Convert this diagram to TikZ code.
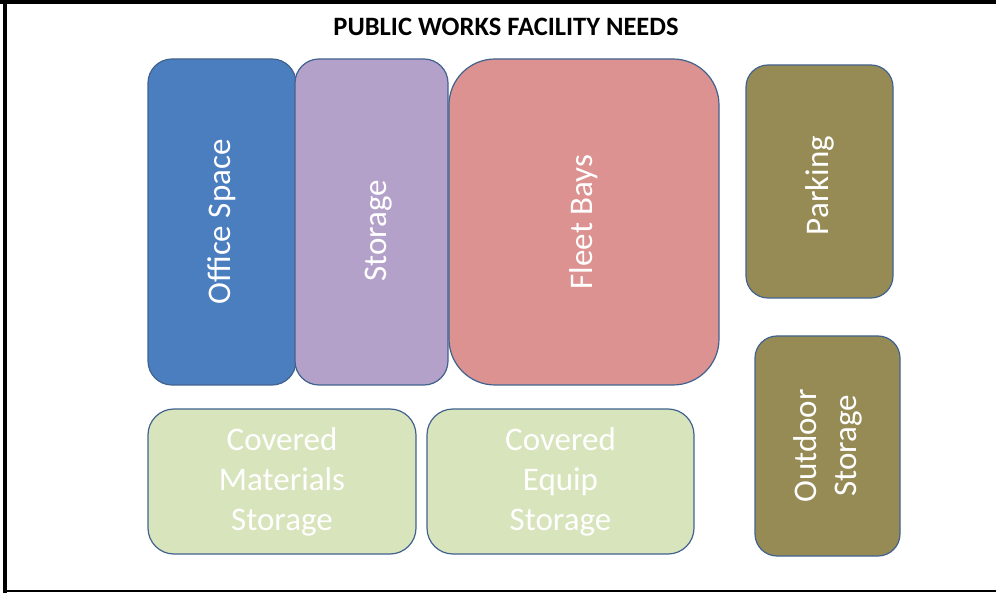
\documentclass[tikz,border=0pt]{standalone}
\usepackage{fontspec}
\setmainfont{Carlito}
\definecolor{officeblue}{HTML}{4A7EBF}
\definecolor{storepurple}{HTML}{B3A1C9}
\definecolor{fleetpink}{HTML}{DB9290}
\definecolor{olive}{HTML}{968B55}
\definecolor{palegreen}{HTML}{D8E4BC}
\definecolor{edgeblue}{HTML}{41628F}
\tikzset{
  area/.style={draw=edgeblue, line width=1.2pt, rounded corners=#1,
    text=white, font=\fontsize{33}{40}\selectfont, align=center,
    inner sep=0pt},
  area/.default=24pt,
  upright/.style={rotate=90},
}
\begin{document}
\begin{tikzpicture}[x=1pt,y=-1pt]
  \useasboundingbox (0,0) rectangle (996,593);
  % frame lines
  \fill[black] (0,0) rectangle (996,4);
  \fill[black] (3,0) rectangle (7,593);
  \fill[black] (3,589.8) rectangle (996,592);

  \node[font=\bfseries\fontsize{26.5}{30}\selectfont] (title) at (506,27) {PUBLIC WORKS FACILITY NEEDS};

  % main building
  \node[area, fill=officeblue, upright, minimum width=326pt, minimum height=148pt] (office) at (222,222) {Office Space};
  \node[area, fill=storepurple, upright, minimum width=326pt, minimum height=153pt, text height=36pt, text depth=7pt] (storage) at (371.5,222) {Storage\hspace*{18pt}};
  \node[area=46pt, fill=fleetpink, upright, minimum width=326pt, minimum height=270pt] (fleet) at (584,222) {Fleet Bays};

  % site areas
  \node[area=22pt, fill=olive, upright, minimum width=233pt, minimum height=147pt] (parking) at (819.5,181.5) {Parking\hspace*{8pt}};
  \node[area=22pt, fill=olive, upright, minimum width=220pt, minimum height=145pt] (outdoor) at (827.5,446) {Outdoor\\Storage};

  % covered storage
  \node[area=26pt, fill=palegreen, minimum width=268pt, minimum height=145pt] (materials) at (282,481.5) {Covered\\Materials\\Storage};
  \node[area=26pt, fill=palegreen, minimum width=267pt, minimum height=145pt] (equip) at (560.5,481.5) {Covered\\Equip\\Storage};
\end{tikzpicture}
\end{document}
